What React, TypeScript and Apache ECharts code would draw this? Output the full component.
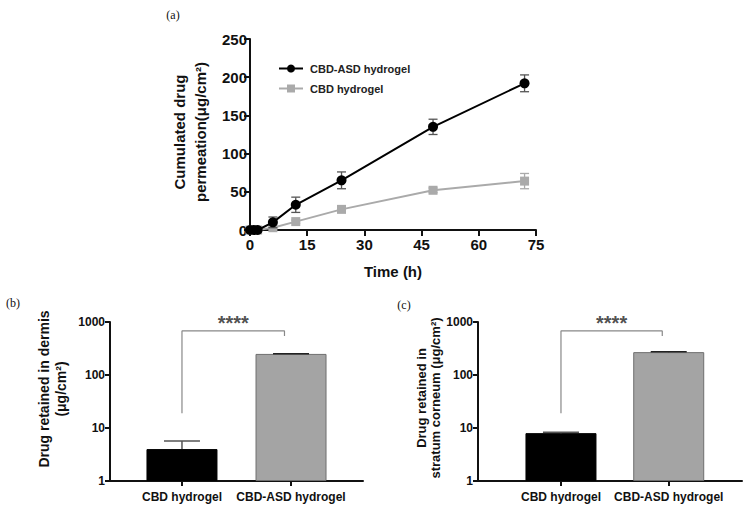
import React, { useEffect, useRef } from "react";
import * as echarts from "echarts";

// ---- Panel (a) data ----
const timeHours = [0, 1, 2, 6, 12, 24, 48, 72];
const asdMean = [0, 0, 0, 10, 33, 65, 135, 192];
const asdErr = [0, 0, 0, 7, 10, 11, 10, 11];
const cbdMean = [0, 0, 0, 3, 11, 27, 52, 64];
const cbdErr = [0, 0, 0, 1, 2, 3, 3, 10];
const seriesNames = ["CBD-ASD hydrogel", "CBD hydrogel"];

// ---- Panels (b), (c) data ----
const barCategories = ["CBD hydrogel", "CBD-ASD hydrogel"];
const dermisMean = [4, 250];
const dermisErr = [1.7, 3];
const corneumMean = [8, 270];
const corneumErr = [0.3, 6];
const bracketLeftLow = 19;
const bracketTop = 680;
const bracketRightLow = 545;
const sigLabel = "****";

const FONT = "'Liberation Sans', Arial, sans-serif";
const SERIF = "'Liberation Serif', 'Times New Roman', serif";

function errSeries(
  xAxisIndex: number,
  yAxisIndex: number,
  data: number[][],
  color: string,
  cap: number,
  lw: number,
  z: number
) {
  return {
    type: "custom",
    xAxisIndex,
    yAxisIndex,
    z,
    silent: true,
    encode: { x: 0, y: [1, 2] },
    data,
    renderItem: (params: any, api: any) => {
      const x = api.value(0);
      const lo = api.value(1);
      const hi = api.value(2);
      if (hi - lo <= 0) return { type: "group", children: [] };
      const t = api.coord([x, hi]);
      const b = api.coord([x, lo]);
      const w = cap / 2;
      const style = { stroke: color, lineWidth: lw };
      return {
        type: "group",
        children: [
          { type: "line", shape: { x1: t[0], y1: t[1], x2: b[0], y2: b[1] }, style },
          { type: "line", shape: { x1: t[0] - w, y1: t[1], x2: t[0] + w, y2: t[1] }, style },
          { type: "line", shape: { x1: b[0] - w, y1: b[1], x2: b[0] + w, y2: b[1] }, style },
        ],
      };
    },
  };
}

function barErrSeries(xAxisIndex: number, yAxisIndex: number, means: number[], errs: number[], cap: number) {
  return {
    type: "custom",
    xAxisIndex,
    yAxisIndex,
    z: 5,
    silent: true,
    encode: { x: 0, y: [1, 2] },
    data: means.map((m, i) => [i, m, m + errs[i]]),
    renderItem: (params: any, api: any) => {
      const x = api.value(0);
      const t = api.coord([x, api.value(2)]);
      const b = api.coord([x, api.value(1)]);
      const w = cap / 2;
      const style = { stroke: params.dataIndex === 0 ? "#555" : "#222", lineWidth: 1.5 };
      return {
        type: "group",
        children: [
          { type: "line", shape: { x1: t[0], y1: t[1], x2: b[0], y2: b[1] }, style },
          { type: "line", shape: { x1: t[0] - w, y1: t[1], x2: t[0] + w, y2: t[1] }, style },
        ],
      };
    },
  };
}

const axisLineStyle = { lineStyle: { color: "#111", width: 2 } };
const tickStyle = (len: number) => ({ show: true, length: len, lineStyle: { color: "#111", width: 2 } });

function barXAxis(gridIndex: number, min: number, max: number) {
  return {
    type: "value",
    gridIndex,
    min,
    max,
    axisLine: { show: true, onZero: false, ...axisLineStyle },
    axisTick: { ...tickStyle(5), customValues: [0, 1] },
    splitLine: { show: false },
    axisLabel: {
      customValues: [0, 1],
      formatter: (v: number) => barCategories[Math.round(v)] ?? "",
      fontFamily: FONT,
      fontWeight: "bold",
      fontSize: 12,
      color: "#111",
      margin: 10,
    },
  };
}

function logYAxis(gridIndex: number) {
  return {
    type: "log",
    gridIndex,
    logBase: 10,
    min: 1,
    max: 1000,
    axisLine: { show: true, onZero: false, ...axisLineStyle },
    axisTick: tickStyle(5),
    minorTick: { show: false },
    splitLine: { show: false },
    axisLabel: {
      fontFamily: FONT,
      fontWeight: "bold",
      fontSize: 12,
      color: "#111",
      margin: 5,
      formatter: (v: number) => String(Math.round(v)),
    },
  };
}

function barSeries(xAxisIndex: number, yAxisIndex: number, means: number[]) {
  return {
    type: "bar",
    xAxisIndex,
    yAxisIndex,
    barWidth: 71,
    silent: true,
    z: 2,
    data: means.map((m, i) => ({
      value: [i, m],
      itemStyle:
        i === 0
          ? { color: "#000", borderColor: "#000", borderWidth: 1 }
          : { color: "#a4a4a4", borderColor: "#6e6e6e", borderWidth: 1 },
    })),
  };
}

function bracketSeries(xAxisIndex: number, yAxisIndex: number, rightX: number) {
  return [
    {
      type: "line",
      xAxisIndex,
      yAxisIndex,
      symbol: "none",
      silent: true,
      lineStyle: { color: "#888", width: 1.2 },
      data: [
        [0, bracketLeftLow],
        [0, bracketTop],
        [rightX, bracketTop],
        [rightX, bracketRightLow],
      ],
    },
    {
      type: "scatter",
      xAxisIndex,
      yAxisIndex,
      symbolSize: 0,
      silent: true,
      data: [[rightX / 2, bracketTop]],
      label: {
        show: true,
        formatter: sigLabel,
        position: "top",
        distance: -2,
        fontFamily: FONT,
        fontWeight: "bold",
        fontSize: 20,
        color: "#222",
      },
    },
  ];
}

export default function App() {
  const ref = useRef<HTMLDivElement>(null);
  useEffect(() => {
    if (!ref.current) return;
    const chart = echarts.init(ref.current, null, { renderer: "svg" });
    const asdData = timeHours.map((t, i) => [t, asdMean[i]]);
    const cbdData = timeHours.map((t, i) => [t, cbdMean[i]]);
    const option: any = {
      animation: false,
      backgroundColor: "#fff",
      textStyle: { fontFamily: FONT },
      grid: [
        { left: 250, top: 39, width: 286, height: 191 },
        { left: 110, top: 322, width: 253, height: 159 },
        { left: 478, top: 322, width: 264, height: 159 },
      ],
      legend: {
        left: 273,
        top: 58,
        orient: "vertical",
        itemWidth: 24,
        itemHeight: 10,
        itemGap: 9,
        selectedMode: false,
        data: seriesNames,
        textStyle: { fontFamily: FONT, fontWeight: "bold", fontSize: 11, color: "#222", padding: [0, 0, 0, 2] },
      },
      xAxis: [
        {
          type: "value",
          gridIndex: 0,
          min: 0,
          max: 75,
          interval: 15,
          axisLine: { show: true, onZero: false, ...axisLineStyle },
          axisTick: tickStyle(6),
          splitLine: { show: false },
          axisLabel: { fontFamily: FONT, fontWeight: "bold", fontSize: 15, color: "#111", margin: 7 },
          name: "Time (h)",
          nameLocation: "middle",
          nameGap: 34,
          nameTextStyle: { fontFamily: FONT, fontWeight: "bold", fontSize: 15, color: "#111" },
        },
        barXAxis(1, -0.66, 1.66),
        barXAxis(2, -0.77, 1.68),
      ],
      yAxis: [
        {
          type: "value",
          gridIndex: 0,
          min: 0,
          max: 250,
          interval: 50,
          axisLine: { show: true, onZero: false, ...axisLineStyle },
          axisTick: tickStyle(6),
          splitLine: { show: false },
          axisLabel: { fontFamily: FONT, fontWeight: "bold", fontSize: 15, color: "#111", margin: 3 },
        },
        logYAxis(1),
        logYAxis(2),
      ],
      graphic: [
        { type: "text", x: 173, y: 15, style: { text: "(a)", font: `12px ${SERIF}`, fill: "#111", align: "center", verticalAlign: "middle" } },
        { type: "text", x: 13, y: 303, style: { text: "(b)", font: `12px ${SERIF}`, fill: "#111", align: "center", verticalAlign: "middle" } },
        { type: "text", x: 404, y: 305, style: { text: "(c)", font: `12px ${SERIF}`, fill: "#111", align: "center", verticalAlign: "middle" } },
        {
          type: "text",
          x: 190,
          y: 132,
          rotation: Math.PI / 2,
          style: {
            text: "Cumulated drug\npermeation(μg/cm²)",
            font: `bold 15px ${FONT}`,
            fill: "#111",
            align: "center",
            verticalAlign: "middle",
            lineHeight: 21,
          },
        },
        {
          type: "text",
          x: 52,
          y: 389,
          rotation: Math.PI / 2,
          style: {
            text: "Drug retained in dermis\n(μg/cm²)",
            font: `bold 14px ${FONT}`,
            fill: "#111",
            align: "center",
            verticalAlign: "middle",
            lineHeight: 17,
          },
        },
        {
          type: "text",
          x: 428,
          y: 398,
          rotation: Math.PI / 2,
          style: {
            text: "Drug retained in\nstratum corneum (μg/cm²)",
            font: `bold 13px ${FONT}`,
            fill: "#111",
            align: "center",
            verticalAlign: "middle",
            lineHeight: 14,
          },
        },
      ],
      series: [
        errSeries(0, 0, timeHours.map((t, i) => [t, cbdMean[i] - cbdErr[i], cbdMean[i] + cbdErr[i]]), "#aaa", 9, 1.3, 1),
        {
          name: seriesNames[1],
          type: "line",
          xAxisIndex: 0,
          yAxisIndex: 0,
          data: cbdData,
          symbol: "rect",
          symbolSize: 9,
          z: 2,
          itemStyle: { color: "#aaaaaa" },
          lineStyle: { color: "#aaaaaa", width: 2 },
        },
        errSeries(0, 0, timeHours.map((t, i) => [t, asdMean[i] - asdErr[i], asdMean[i] + asdErr[i]]), "#555", 9, 1.3, 3),
        {
          name: seriesNames[0],
          type: "line",
          xAxisIndex: 0,
          yAxisIndex: 0,
          data: asdData,
          symbol: "circle",
          symbolSize: 10,
          z: 4,
          itemStyle: { color: "#000" },
          lineStyle: { color: "#000", width: 2 },
        },
        barSeries(1, 1, dermisMean),
        barErrSeries(1, 1, dermisMean, dermisErr, 36),
        ...bracketSeries(1, 1, 0.94),
        barSeries(2, 2, corneumMean),
        barErrSeries(2, 2, corneumMean, corneumErr, 36),
        ...bracketSeries(2, 2, 0.94),
      ],
    };
    chart.setOption(option);
    return () => chart.dispose();
  }, []);
  return (
    <div
      ref={ref}
      style={{ position: "fixed", left: 0, top: 0, width: 748, height: 509, background: "#fff" }}
    />
  );
}
